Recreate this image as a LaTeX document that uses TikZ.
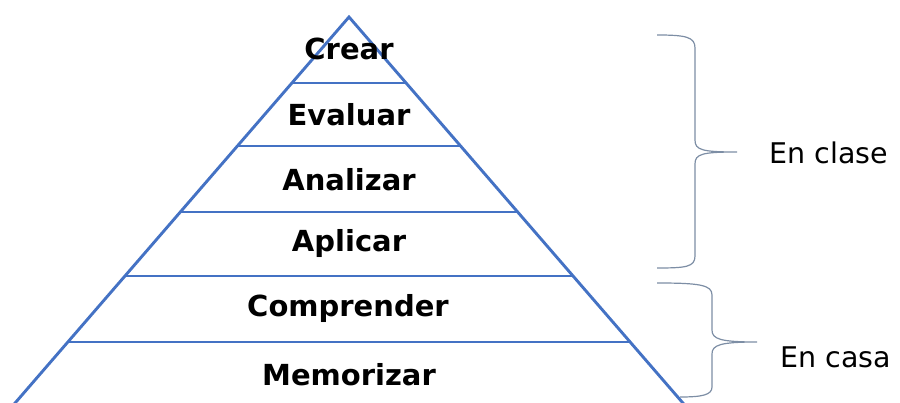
\documentclass[tikz,border=0pt]{standalone}
\usepackage{fontspec}
\newfontfamily\labfont{DejaVu Sans}
\definecolor{pyrblue}{RGB}{68,114,196}
\definecolor{bracecol}{RGB}{125,142,165}
\begin{document}
\begin{tikzpicture}[x=1pt,y=-1pt,
  pyr/.style={draw=pyrblue,line width=2.9pt},
  lvl/.style={font=\labfont\bfseries\fontsize{29}{31}\selectfont,text=black,inner sep=0pt,anchor=center},
  side/.style={font=\labfont\fontsize{28.5}{30}\selectfont,text=black,inner sep=0pt,anchor=center},
  bracestyle/.style={draw=bracecol,line width=1.2pt}]
\useasboundingbox (0,0) rectangle (900,403);
\begin{scope}
\clip (0,0) rectangle (900,403);
\coordinate (apex) at (349,17);
\coordinate (bl) at (0.4,420);
\coordinate (br) at (697.6,420);
\coordinate (l1) at (291.9,83);  \coordinate (r1) at (406.1,83);
\coordinate (l2) at (237.4,146); \coordinate (r2) at (460.6,146);
\coordinate (l3) at (180.3,212); \coordinate (r3) at (517.7,212);
\coordinate (l4) at (125.0,276); \coordinate (r4) at (573.0,276);
\coordinate (l5) at (67.9,342);  \coordinate (r5) at (630.1,342);
\draw[pyr,line join=miter] (bl) -- (apex) -- (br);
\draw[pyr] (l1) -- (r1);
\draw[pyr] (l2) -- (r2);
\draw[pyr] (l3) -- (r3);
\draw[pyr] (l4) -- (r4);
\draw[pyr] (l5) -- (r5);
\end{scope}
\node[lvl] (crear) at (349,49) {Crear};
\node[lvl] (evaluar) at (349,115) {Evaluar};
\node[lvl] (analizar) at (349,180) {Analizar};
\node[lvl] (aplicar) at (349,244) {Aplicar};
\node[lvl] (comprender) at (348,309) {Comprender};
\node[lvl] (memorizar) at (349,375) {Memorizar};
% braces
\coordinate (b1top) at (657,35);
\coordinate (b1tip) at (737,152);
\coordinate (b1bot) at (657,268);
\draw[bracestyle] (b1top) .. controls (686,35) and (695,37) .. (695,48)
  -- (695,140) .. controls (695,150) and (702,152) .. (b1tip)
  .. controls (702,152) and (695,154) .. (695,164)
  -- (695,256) .. controls (695,267) and (686,268) .. (b1bot);
\coordinate (b2top) at (657,283);
\coordinate (b2tip) at (757,342);
\coordinate (b2bot) at (680,397);
\draw[bracestyle] (b2top) .. controls (700,283) and (712,285) .. (712,295)
  -- (712,330) .. controls (712,339) and (720,342) .. (b2tip)
  .. controls (720,342) and (712,345) .. (712,354)
  -- (712,387) .. controls (712,395) and (702,397) .. (b2bot);
\node[side] (clase) at (829,153) {En clase};
\node[side] (casa) at (836,357) {En casa};
\end{tikzpicture}
\end{document}
